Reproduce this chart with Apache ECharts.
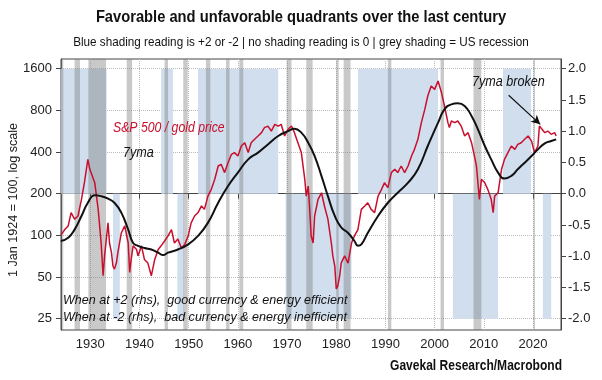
<!DOCTYPE html>
<html><head><meta charset="utf-8">
<script src="https://cdn.jsdelivr.net/npm/echarts@6/dist/echarts.min.js"></script>
<style>html,body{margin:0;padding:0;background:#fff}#c{width:602px;height:380px}</style>
</head><body><div id="c"></div>
<script>
// ---------- data ----------
const spxYears = [1924.0,1924.8,1925.5,1926.1,1926.8,1927.5,1928.2,1928.8,1929.5,1929.9,1930.2,1930.9,1931.6,1932.2,1932.6,1932.9,1933.6,1933.9,1934.3,1934.6,1934.9,1935.3,1935.6,1936.3,1937.0,1937.7,1938.0,1938.3,1938.7,1939.4,1939.7,1940.4,1941.0,1941.7,1942.4,1943.1,1943.8,1944.4,1945.1,1945.8,1946.5,1947.1,1947.8,1948.5,1949.2,1949.9,1950.5,1951.2,1951.9,1952.6,1953.2,1953.9,1954.6,1955.3,1956.0,1956.6,1957.3,1958.0,1958.7,1959.3,1960.0,1960.7,1961.4,1962.1,1962.7,1963.4,1964.1,1964.8,1965.4,1966.1,1966.8,1967.5,1968.2,1968.8,1969.5,1970.2,1970.9,1971.5,1972.2,1972.9,1973.6,1973.9,1974.3,1974.6,1974.9,1975.3,1975.6,1976.3,1977.0,1977.6,1978.3,1979.0,1979.3,1979.7,1980.0,1980.3,1980.7,1981.0,1981.7,1982.4,1983.1,1983.7,1984.4,1985.1,1985.8,1986.4,1987.1,1987.8,1988.5,1989.2,1989.8,1990.5,1991.2,1991.9,1992.5,1993.2,1993.9,1994.6,1995.3,1995.9,1996.6,1997.3,1998.0,1998.6,1999.3,2000.0,2000.7,2001.4,2002.0,2002.7,2003.0,2003.4,2004.1,2004.7,2005.4,2006.1,2006.8,2007.5,2008.1,2008.5,2008.8,2009.1,2009.5,2010.2,2010.8,2011.5,2011.9,2012.2,2012.9,2013.2,2013.6,2014.2,2014.9,2015.6,2016.3,2016.9,2017.6,2018.3,2019.0,2019.7,2020.3,2021.0,2021.3,2021.7,2022.4,2023.0,2023.7,2024.4,2024.7];
const spxGold = [100,110,117,146,131,138,182,240,354,300,292,240,154,88,51,71,123,88,75,60,57,63,75,104,117,88,54,67,84,79,71,84,67,63,51,67,79,84,91,99,110,88,94,81,86,99,123,138,146,163,154,192,215,254,317,326,284,335,385,396,374,442,467,396,467,494,522,552,600,616,567,634,616,634,522,584,616,552,467,396,254,192,227,154,99,88,138,182,203,163,131,88,71,60,41,43,51,63,71,63,88,99,110,154,163,172,154,146,192,215,240,221,284,300,284,317,284,317,374,418,494,652,813,1016,1199,1134,1303,1073,860,652,600,670,652,670,616,522,552,467,374,317,240,182,254,240,215,182,146,192,203,240,300,354,396,442,418,454,467,494,522,480,396,442,616,600,552,567,537,552,522];

const maYears = [1924.0,1925.5,1926.8,1928.2,1929.5,1930.9,1932.2,1933.6,1934.9,1936.3,1937.7,1938.7,1939.7,1941.0,1942.4,1943.8,1944.8,1945.8,1947.8,1949.9,1951.9,1953.9,1956.0,1958.0,1960.0,1962.1,1964.1,1966.1,1968.2,1970.2,1971.5,1972.9,1974.3,1975.6,1977.0,1978.3,1979.7,1981.0,1982.4,1983.7,1984.4,1985.1,1986.4,1988.5,1990.5,1992.5,1994.6,1996.6,1998.6,2000.7,2002.0,2003.4,2004.7,2006.1,2007.5,2008.8,2010.2,2011.5,2012.9,2014.2,2015.6,2016.9,2018.3,2019.7,2021.0,2022.4,2023.7,2024.7];
const ma7y = [91,96,110,138,172,195,192,184,172,146,110,88,84,81,79,75,72,75,79,86,99,123,172,227,284,354,396,454,522,567,590,552,467,374,268,192,138,114,104,91,84,86,104,138,172,203,240,300,442,652,813,884,899,860,728,583,442,354,284,257,269,300,335,374,418,462,480,494];

// currency/energy regime reading (rhs): +2, -2
const regimeStart = [1924.0,1934.6,1944.4,1947.7,1951.9,1969.7,1984.4,2003.7,2013.9,2022.0];
const regimeEnd   = [1933.3,1936.0,1946.8,1949.0,1968.2,1983.1,2000.7,2012.9,2019.6,2023.7];
const regimeValue = [2,-2,2,-2,2,-2,2,-2,2,-2];

// US recessions
const recStart = [1924.0,1926.8,1929.6,1937.4,1945.1,1948.9,1953.5,1957.6,1960.3,1969.9,1973.9,1980.0,1981.5,1990.5,2001.2,2007.9,2020.1];
const recEnd   = [1924.5,1927.9,1933.2,1938.5,1945.8,1949.8,1954.4,1958.3,1961.1,1970.9,1975.2,1980.5,1982.9,1991.2,2001.9,2009.5,2020.4];

const xTicks = [1930,1940,1950,1960,1970,1980,1990,2000,2010,2020];
const leftTicks = [25,50,100,200,400,800,1600];
const rightTicks = [-2,-1.5,-1,-0.5,0,0.5,1,1.5,2];

// ---------- chart ----------
const FA = "'Liberation Sans',Arial,sans-serif";
const chart = echarts.init(document.getElementById('c'), null, {renderer:'canvas'});

const regimeData = regimeStart.map((s,i)=>[s, regimeEnd[i], regimeValue[i]]);
const recData = recStart.map((s,i)=>[s, recEnd[i], 0]);

function txt(x,y,text,opt){
  return {type:'text',x:x,y:y,z:10,scaleX:opt.sx||1,rotation:opt.rot||0,
    style:{text:text,fontFamily:FA,fontSize:opt.fs||13,fontWeight:opt.fw||'normal',fontStyle:opt.it?'italic':'normal',
      fill:opt.color||'#111',align:opt.align||'left',verticalAlign:'middle'}};
}

chart.setOption({
  animation:false,
  backgroundColor:'#fff',
  grid:{left:61,right:41,top:59,bottom:50,show:true,borderColor:'#444',borderWidth:1,backgroundColor:'transparent'},
  xAxis:{type:'value',min:1924.04,max:2025.69,
    axisLine:{show:true,lineStyle:{color:'#444'}},
    axisTick:{show:true,length:5,customValues:xTicks,lineStyle:{color:'#444'}},
    axisLabel:{customValues:xTicks,formatter:v=>String(v),color:'#222',fontFamily:FA,fontSize:13,margin:8},
    splitLine:{show:true,lineStyle:{color:'#bbb',type:'dotted'}}},
  yAxis:[
    {type:'log',logBase:2,min:20.7,max:1880,position:'left',
     axisLine:{show:true,lineStyle:{color:'#444'}},
     axisTick:{show:true,length:5,customValues:leftTicks,lineStyle:{color:'#444'}},
     axisLabel:{customValues:leftTicks,formatter:v=>String(Math.round(v)),color:'#222',fontFamily:FA,fontSize:13,margin:9},
     splitLine:{show:true,lineStyle:{color:'#bbb',type:'dotted'}}},
    {type:'value',min:-2.181,max:2.155,position:'right',
     axisLine:{show:true,lineStyle:{color:'#444'}},
     axisTick:{show:true,length:5,customValues:rightTicks,lineStyle:{color:'#444'}},
     axisLabel:{customValues:rightTicks,formatter:v=>v.toFixed(1),color:'#222',fontFamily:FA,fontSize:13,margin:7},
     splitLine:{show:false}}
  ],
  series:[
    {type:'custom',name:'regime',xAxisIndex:0,yAxisIndex:1,z:1,clip:true,silent:true,
     encode:{x:[0,1],y:2},data:regimeData,
     renderItem:(params,api)=>{
       const a=api.coord([api.value(0),0]); const b=api.coord([api.value(1),api.value(2)]);
       return {type:'rect',shape:{x:a[0],y:Math.min(a[1],b[1]),width:b[0]-a[0],height:Math.abs(b[1]-a[1])},style:{fill:'#d0deee'}};
     }},
    {type:'custom',name:'recession',xAxisIndex:0,yAxisIndex:1,z:2,clip:true,silent:true,
     encode:{x:[0,1],y:2},data:recData,
     renderItem:(params,api)=>{
       const a=api.coord([api.value(0),0]); const b=api.coord([api.value(1),0]);
       const cs=params.coordSys;
       return {type:'rect',shape:{x:a[0],y:cs.y,width:b[0]-a[0],height:cs.height},style:{fill:'rgba(120,120,120,0.4)'}};
     }},
    {type:'line',name:'S&P 500 / gold price',yAxisIndex:0,z:3,showSymbol:false,symbol:'none',
     data:spxYears.map((y,i)=>[y,spxGold[i]]),lineStyle:{color:'#c8102e',width:1.5}},
    {type:'line',name:'7yma',yAxisIndex:0,z:4,showSymbol:false,symbol:'none',smooth:0.5,
     data:maYears.map((y,i)=>[y,ma7y[i]]),lineStyle:{color:'#111',width:2},
     markLine:{silent:true,symbol:['none','arrow'],symbolSize:[7,9],label:{show:false},
       lineStyle:{color:'#111',width:1.2,type:'solid'},
       data:[[{coord:[2015.05,1028]},{coord:[2021.47,634]}]]}}
  ],
  graphic:[
    txt(301,17,'Favorable and unfavorable quadrants over the last century',{fs:17,fw:'bold',align:'center',sx:0.865}),
    txt(301,42,'Blue shading reading is +2 or -2 | no shading reading is 0 | grey shading = US recession',{fs:13.5,align:'center',sx:0.867}),
    txt(13,200,'1 Jan 1924 = 100, log scale',{fs:13.5,align:'center',rot:Math.PI/2,sx:0.93,color:'#222'}),
    txt(113,128,'S&P 500 / gold price',{fs:14,it:true,color:'#c8102e',sx:0.875}),
    txt(123,153,'7yma',{fs:14,it:true,sx:0.9}),
    txt(472,82,'7yma broken',{fs:14,it:true,sx:0.9}),
    txt(63,300,'When at +2 (rhs),  good currency & energy efficient',{fs:13.5,it:true,sx:0.93}),
    txt(63,317,'When at -2 (rhs),  bad currency & energy inefficient',{fs:13.5,it:true,sx:0.93}),
    txt(562,366,'Gavekal Research/Macrobond',{fs:14,fw:'bold',align:'right',sx:0.86})
  ]
});
</script></body></html>
